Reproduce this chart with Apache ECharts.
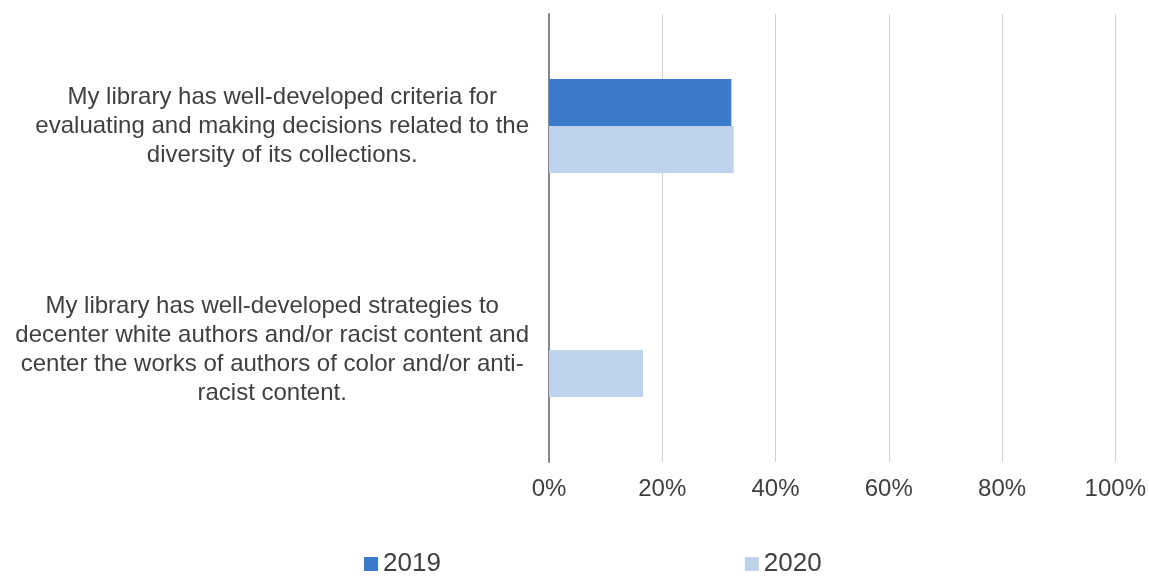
<!DOCTYPE html>
<html>
<head>
<meta charset="utf-8">
<script src="https://cdn.jsdelivr.net/npm/echarts@6/dist/echarts.min.js"></script>
<style>
  html, body { margin: 0; padding: 0; background: #ffffff; }
  #main { width: 1149px; height: 576px; }
</style>
</head>
<body>
<div id="main"></div>
<script>
var categories = [
    'My library has well-developed criteria for\nevaluating and making decisions related to the\ndiversity of its collections.',
    'My library has well-developed strategies to\ndecenter white authors and/or racist content and\ncenter the works of authors of color and/or anti-\nracist content.'
];
var seriesNames = ['2019', '2020'];
var values2019 = [32.2, null];
var values2020 = [32.6, 16.6];
var xTicks = { min: 0, max: 100, interval: 20 };

var textColor = '#404040';
var font = "'Liberation Sans', Arial, sans-serif";

var chart = echarts.init(document.getElementById('main'));

var option = {
    animation: false,
    backgroundColor: '#ffffff',
    textStyle: { fontFamily: font },
    grid: {
        left: 549,
        right: 33,
        top: 14,
        bottom: 114,
        containLabel: false
    },
    legend: {
        data: seriesNames,
        left: 359,
        top: 546,
        icon: 'rect',
        itemWidth: 14,
        itemHeight: 14,
        itemGap: 304,
        textStyle: { fontSize: 26, color: textColor, fontFamily: font }
    },
    xAxis: {
        type: 'value',
        min: xTicks.min,
        max: xTicks.max,
        interval: xTicks.interval,
        axisLine: { show: false },
        axisTick: { show: false },
        splitLine: { show: true, lineStyle: { color: '#d0d0d0', width: 1 } },
        axisLabel: {
            formatter: '{value}%',
            fontSize: 24,
            color: textColor,
            fontFamily: font,
            margin: 15
        }
    },
    yAxis: {
        type: 'category',
        inverse: true,
        data: categories,
        axisLine: { show: true, lineStyle: { color: '#868686', width: 2 } },
        axisTick: { show: false },
        axisLabel: {
            margin: 20,
            formatter: function (v) {
                return v.split('\n').map(function (s) { return '{c|' + s + '}'; }).join('\n');
            },
            rich: {
                c: { align: 'center', fontSize: 24, lineHeight: 29, color: textColor, fontFamily: font }
            }
        }
    },
    series: [
        {
            name: '2019',
            type: 'bar',
            data: values2019,
            barWidth: 47,
            barGap: '0%',
            itemStyle: { color: '#3a7cc9' }
        },
        {
            name: '2020',
            type: 'bar',
            data: values2020,
            barWidth: 47,
            barGap: '0%',
            itemStyle: { color: '#bed2eb' }
        }
    ]
};

chart.setOption(option);
</script>
</body>
</html>
